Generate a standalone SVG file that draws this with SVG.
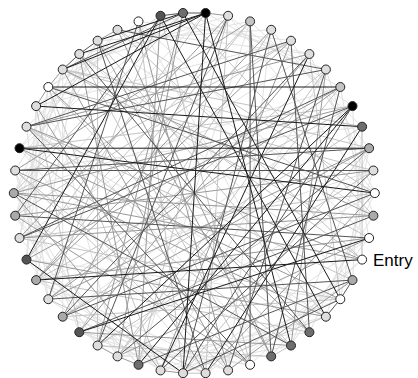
<svg xmlns="http://www.w3.org/2000/svg" width="418" height="378" viewBox="0 0 418 378">
<style>
line{stroke-width:1;fill:none}
.x{stroke:#e2e2e2}.l{stroke:#c4c4c4}.m{stroke:#999}.d{stroke:#555}.k{stroke:#1a1a1a}
circle{stroke:#222;stroke-width:1}
.c0{fill:#000}.c1{fill:#555}.c2{fill:#6e6e6e}.c3{fill:#aaa}.c4{fill:#c4c4c4}.c5{fill:#dedede}.c6{fill:#fff}
text{font-family:"Liberation Sans",Arial,sans-serif;font-size:17px;fill:#000}
</style>
<rect width="418" height="378" fill="#fff"/>
<g id="edges">
<line class="x" x1="138.5" y1="21.4" x2="369.1" y2="238.0"/>
<line class="x" x1="160.5" y1="15.8" x2="48.3" y2="87.0"/>
<line class="x" x1="183.0" y1="13.0" x2="19.5" y2="148.2"/>
<line class="x" x1="205.6" y1="13.0" x2="15.2" y2="215.7"/>
<line class="x" x1="228.1" y1="15.8" x2="374.8" y2="193.1"/>
<line class="x" x1="250.1" y1="21.4" x2="138.5" y2="364.8"/>
<line class="x" x1="271.2" y1="29.8" x2="228.1" y2="370.4"/>
<line class="x" x1="291.0" y1="40.7" x2="36.1" y2="106.1"/>
<line class="x" x1="309.4" y1="54.0" x2="19.5" y2="238.0"/>
<line class="x" x1="325.9" y1="69.5" x2="160.5" y2="370.4"/>
<line class="x" x1="340.3" y1="87.0" x2="13.8" y2="193.1"/>
<line class="x" x1="352.5" y1="106.1" x2="62.7" y2="316.7"/>
<line class="x" x1="362.1" y1="126.7" x2="15.2" y2="170.5"/>
<line class="x" x1="369.1" y1="148.2" x2="291.0" y2="345.5"/>
<line class="x" x1="373.4" y1="170.5" x2="36.1" y2="280.1"/>
<line class="x" x1="374.8" y1="193.1" x2="97.6" y2="345.5"/>
<line class="x" x1="373.4" y1="215.7" x2="97.6" y2="40.7"/>
<line class="x" x1="369.1" y1="238.0" x2="183.0" y2="373.2"/>
<line class="x" x1="362.1" y1="259.6" x2="228.1" y2="370.4"/>
<line class="x" x1="352.5" y1="280.1" x2="79.3" y2="54.0"/>
<line class="x" x1="340.3" y1="299.2" x2="26.5" y2="259.6"/>
<line class="x" x1="325.9" y1="316.7" x2="26.5" y2="126.7"/>
<line class="x" x1="309.4" y1="332.2" x2="138.5" y2="21.4"/>
<line class="x" x1="291.0" y1="345.5" x2="15.2" y2="215.7"/>
<line class="x" x1="271.2" y1="356.4" x2="36.1" y2="106.1"/>
<line class="x" x1="250.1" y1="364.8" x2="79.3" y2="332.2"/>
<line class="x" x1="228.1" y1="370.4" x2="36.1" y2="280.1"/>
<line class="x" x1="205.6" y1="373.2" x2="19.5" y2="148.2"/>
<line class="x" x1="183.0" y1="373.2" x2="79.3" y2="332.2"/>
<line class="x" x1="160.5" y1="370.4" x2="48.3" y2="299.2"/>
<line class="x" x1="138.5" y1="364.8" x2="15.2" y2="215.7"/>
<line class="x" x1="117.5" y1="356.4" x2="48.3" y2="87.0"/>
<line class="x" x1="97.6" y1="345.5" x2="26.5" y2="259.6"/>
<line class="x" x1="62.7" y1="316.7" x2="62.7" y2="69.5"/>
<line class="x" x1="48.3" y1="299.2" x2="15.2" y2="170.5"/>
<line class="x" x1="36.1" y1="280.1" x2="79.3" y2="54.0"/>
<line class="x" x1="26.5" y1="259.6" x2="36.1" y2="106.1"/>
<line class="x" x1="19.5" y1="238.0" x2="48.3" y2="87.0"/>
<line class="x" x1="15.2" y1="215.7" x2="62.7" y2="69.5"/>
<line class="x" x1="13.8" y1="193.1" x2="79.3" y2="54.0"/>
<line class="x" x1="15.2" y1="170.5" x2="97.6" y2="40.7"/>
<line class="x" x1="19.5" y1="148.2" x2="117.5" y2="29.8"/>
<line class="x" x1="26.5" y1="126.7" x2="138.5" y2="21.4"/>
<line class="x" x1="36.1" y1="106.1" x2="160.5" y2="15.8"/>
<line class="x" x1="48.3" y1="87.0" x2="183.0" y2="13.0"/>
<line class="x" x1="62.7" y1="69.5" x2="228.1" y2="15.8"/>
<line class="x" x1="79.3" y1="54.0" x2="250.1" y2="21.4"/>
<line class="x" x1="97.6" y1="40.7" x2="271.2" y2="29.8"/>
<line class="x" x1="117.5" y1="29.8" x2="309.4" y2="54.0"/>
<line class="x" x1="138.5" y1="21.4" x2="291.0" y2="40.7"/>
<line class="x" x1="160.5" y1="15.8" x2="309.4" y2="54.0"/>
<line class="x" x1="183.0" y1="13.0" x2="325.9" y2="69.5"/>
<line class="x" x1="205.6" y1="13.0" x2="340.3" y2="87.0"/>
<line class="x" x1="228.1" y1="15.8" x2="352.5" y2="106.1"/>
<line class="x" x1="250.1" y1="21.4" x2="362.1" y2="126.7"/>
<line class="x" x1="271.2" y1="29.8" x2="369.1" y2="148.2"/>
<line class="x" x1="291.0" y1="40.7" x2="373.4" y2="170.5"/>
<line class="x" x1="309.4" y1="54.0" x2="374.8" y2="193.1"/>
<line class="x" x1="325.9" y1="69.5" x2="373.4" y2="215.7"/>
<line class="x" x1="340.3" y1="87.0" x2="369.1" y2="238.0"/>
<line class="x" x1="352.5" y1="106.1" x2="362.1" y2="259.6"/>
<line class="x" x1="362.1" y1="126.7" x2="352.5" y2="280.1"/>
<line class="x" x1="369.1" y1="148.2" x2="340.3" y2="299.2"/>
<line class="x" x1="373.4" y1="170.5" x2="325.9" y2="316.7"/>
<line class="x" x1="374.8" y1="193.1" x2="309.4" y2="332.2"/>
<line class="x" x1="373.4" y1="215.7" x2="291.0" y2="345.5"/>
<line class="x" x1="369.1" y1="238.0" x2="271.2" y2="356.4"/>
<line class="x" x1="362.1" y1="259.6" x2="250.1" y2="364.8"/>
<line class="x" x1="352.5" y1="280.1" x2="205.6" y2="373.2"/>
<line class="x" x1="340.3" y1="299.2" x2="160.5" y2="370.4"/>
<line class="x" x1="325.9" y1="316.7" x2="138.5" y2="364.8"/>
<line class="x" x1="309.4" y1="332.2" x2="117.5" y2="356.4"/>
<line class="x" x1="291.0" y1="345.5" x2="160.5" y2="370.4"/>
<line class="x" x1="271.2" y1="356.4" x2="117.5" y2="356.4"/>
<line class="x" x1="250.1" y1="364.8" x2="97.6" y2="345.5"/>
<line class="x" x1="228.1" y1="370.4" x2="62.7" y2="316.7"/>
<line class="x" x1="205.6" y1="373.2" x2="79.3" y2="332.2"/>
<line class="x" x1="183.0" y1="373.2" x2="36.1" y2="280.1"/>
<line class="x" x1="160.5" y1="370.4" x2="26.5" y2="259.6"/>
<line class="x" x1="138.5" y1="364.8" x2="19.5" y2="238.0"/>
<line class="x" x1="117.5" y1="356.4" x2="13.8" y2="193.1"/>
<line class="x" x1="97.6" y1="345.5" x2="15.2" y2="215.7"/>
<line class="x" x1="79.3" y1="332.2" x2="15.2" y2="170.5"/>
<line class="x" x1="48.3" y1="299.2" x2="26.5" y2="126.7"/>
<line class="x" x1="36.1" y1="280.1" x2="36.1" y2="106.1"/>
<line class="x" x1="26.5" y1="259.6" x2="48.3" y2="87.0"/>
<line class="x" x1="19.5" y1="238.0" x2="62.7" y2="69.5"/>
<line class="x" x1="15.2" y1="215.7" x2="97.6" y2="40.7"/>
<line class="x" x1="13.8" y1="193.1" x2="117.5" y2="29.8"/>
<line class="l" x1="97.6" y1="40.7" x2="97.6" y2="345.5"/>
<line class="l" x1="138.5" y1="21.4" x2="183.0" y2="373.2"/>
<line class="l" x1="160.5" y1="15.8" x2="250.1" y2="364.8"/>
<line class="l" x1="183.0" y1="13.0" x2="373.4" y2="215.7"/>
<line class="l" x1="205.6" y1="13.0" x2="26.5" y2="259.6"/>
<line class="l" x1="228.1" y1="15.8" x2="205.6" y2="373.2"/>
<line class="l" x1="250.1" y1="21.4" x2="36.1" y2="280.1"/>
<line class="l" x1="271.2" y1="29.8" x2="79.3" y2="332.2"/>
<line class="l" x1="291.0" y1="40.7" x2="13.8" y2="193.1"/>
<line class="l" x1="309.4" y1="54.0" x2="340.3" y2="299.2"/>
<line class="l" x1="325.9" y1="69.5" x2="48.3" y2="299.2"/>
<line class="l" x1="340.3" y1="87.0" x2="117.5" y2="356.4"/>
<line class="l" x1="352.5" y1="106.1" x2="19.5" y2="148.2"/>
<line class="l" x1="362.1" y1="126.7" x2="62.7" y2="69.5"/>
<line class="l" x1="369.1" y1="148.2" x2="183.0" y2="373.2"/>
<line class="l" x1="373.4" y1="170.5" x2="48.3" y2="87.0"/>
<line class="l" x1="374.8" y1="193.1" x2="19.5" y2="238.0"/>
<line class="l" x1="369.1" y1="238.0" x2="62.7" y2="69.5"/>
<line class="l" x1="362.1" y1="259.6" x2="117.5" y2="29.8"/>
<line class="l" x1="352.5" y1="280.1" x2="26.5" y2="126.7"/>
<line class="l" x1="340.3" y1="299.2" x2="62.7" y2="316.7"/>
<line class="l" x1="325.9" y1="316.7" x2="97.6" y2="40.7"/>
<line class="l" x1="309.4" y1="332.2" x2="36.1" y2="280.1"/>
<line class="l" x1="291.0" y1="345.5" x2="19.5" y2="148.2"/>
<line class="l" x1="271.2" y1="356.4" x2="97.6" y2="345.5"/>
<line class="l" x1="250.1" y1="364.8" x2="79.3" y2="54.0"/>
<line class="l" x1="228.1" y1="370.4" x2="15.2" y2="170.5"/>
<line class="l" x1="205.6" y1="373.2" x2="48.3" y2="299.2"/>
<line class="l" x1="183.0" y1="373.2" x2="325.9" y2="316.7"/>
<line class="l" x1="160.5" y1="370.4" x2="48.3" y2="87.0"/>
<line class="l" x1="138.5" y1="364.8" x2="228.1" y2="15.8"/>
<line class="l" x1="117.5" y1="356.4" x2="325.9" y2="69.5"/>
<line class="l" x1="97.6" y1="345.5" x2="373.4" y2="170.5"/>
<line class="l" x1="79.3" y1="332.2" x2="36.1" y2="106.1"/>
<line class="l" x1="62.7" y1="316.7" x2="362.1" y2="126.7"/>
<line class="l" x1="48.3" y1="299.2" x2="160.5" y2="15.8"/>
<line class="l" x1="36.1" y1="280.1" x2="352.5" y2="106.1"/>
<line class="l" x1="26.5" y1="259.6" x2="250.1" y2="21.4"/>
<line class="l" x1="19.5" y1="238.0" x2="340.3" y2="299.2"/>
<line class="l" x1="15.2" y1="215.7" x2="291.0" y2="40.7"/>
<line class="l" x1="13.8" y1="193.1" x2="183.0" y2="13.0"/>
<line class="l" x1="15.2" y1="170.5" x2="250.1" y2="364.8"/>
<line class="l" x1="26.5" y1="126.7" x2="309.4" y2="332.2"/>
<line class="l" x1="48.3" y1="87.0" x2="291.0" y2="345.5"/>
<line class="l" x1="62.7" y1="69.5" x2="369.1" y2="148.2"/>
<line class="l" x1="79.3" y1="54.0" x2="362.1" y2="259.6"/>
<line class="l" x1="117.5" y1="29.8" x2="374.8" y2="193.1"/>
<line class="l" x1="362.1" y1="126.7" x2="362.1" y2="259.6"/>
<line class="l" x1="205.6" y1="373.2" x2="183.0" y2="373.2"/>
<line class="l" x1="291.0" y1="345.5" x2="271.2" y2="356.4"/>
<line class="m" x1="138.5" y1="21.4" x2="228.1" y2="370.4"/>
<line class="m" x1="160.5" y1="15.8" x2="138.5" y2="364.8"/>
<line class="m" x1="183.0" y1="13.0" x2="97.6" y2="345.5"/>
<line class="m" x1="228.1" y1="15.8" x2="19.5" y2="238.0"/>
<line class="m" x1="250.1" y1="21.4" x2="15.2" y2="170.5"/>
<line class="m" x1="271.2" y1="29.8" x2="36.1" y2="280.1"/>
<line class="m" x1="291.0" y1="40.7" x2="160.5" y2="370.4"/>
<line class="m" x1="309.4" y1="54.0" x2="26.5" y2="126.7"/>
<line class="m" x1="325.9" y1="69.5" x2="291.0" y2="345.5"/>
<line class="m" x1="340.3" y1="87.0" x2="48.3" y2="299.2"/>
<line class="m" x1="352.5" y1="106.1" x2="13.8" y2="193.1"/>
<line class="m" x1="369.1" y1="148.2" x2="62.7" y2="316.7"/>
<line class="m" x1="373.4" y1="170.5" x2="15.2" y2="215.7"/>
<line class="m" x1="374.8" y1="193.1" x2="205.6" y2="373.2"/>
<line class="m" x1="373.4" y1="215.7" x2="62.7" y2="69.5"/>
<line class="m" x1="369.1" y1="238.0" x2="117.5" y2="356.4"/>
<line class="m" x1="362.1" y1="259.6" x2="13.8" y2="193.1"/>
<line class="m" x1="352.5" y1="280.1" x2="228.1" y2="370.4"/>
<line class="m" x1="340.3" y1="299.2" x2="19.5" y2="148.2"/>
<line class="m" x1="325.9" y1="316.7" x2="26.5" y2="259.6"/>
<line class="m" x1="309.4" y1="332.2" x2="48.3" y2="87.0"/>
<line class="m" x1="291.0" y1="345.5" x2="79.3" y2="332.2"/>
<line class="m" x1="271.2" y1="356.4" x2="97.6" y2="40.7"/>
<line class="m" x1="250.1" y1="364.8" x2="15.2" y2="215.7"/>
<line class="m" x1="205.6" y1="373.2" x2="36.1" y2="106.1"/>
<line class="m" x1="160.5" y1="370.4" x2="13.8" y2="193.1"/>
<line class="m" x1="138.5" y1="364.8" x2="79.3" y2="54.0"/>
<line class="m" x1="117.5" y1="356.4" x2="183.0" y2="13.0"/>
<line class="m" x1="79.3" y1="332.2" x2="309.4" y2="54.0"/>
<line class="m" x1="62.7" y1="316.7" x2="228.1" y2="15.8"/>
<line class="m" x1="48.3" y1="299.2" x2="369.1" y2="148.2"/>
<line class="m" x1="36.1" y1="280.1" x2="291.0" y2="40.7"/>
<line class="m" x1="26.5" y1="259.6" x2="340.3" y2="87.0"/>
<line class="m" x1="19.5" y1="238.0" x2="373.4" y2="215.7"/>
<line class="m" x1="15.2" y1="170.5" x2="325.9" y2="316.7"/>
<line class="m" x1="26.5" y1="126.7" x2="362.1" y2="259.6"/>
<line class="m" x1="62.7" y1="69.5" x2="228.1" y2="370.4"/>
<line class="m" x1="117.5" y1="29.8" x2="271.2" y2="356.4"/>
<line class="m" x1="36.1" y1="280.1" x2="369.1" y2="238.0"/>
<line class="m" x1="13.8" y1="193.1" x2="373.4" y2="215.7"/>
<line class="m" x1="205.6" y1="13.0" x2="228.1" y2="15.8"/>
<line class="m" x1="36.1" y1="106.1" x2="48.3" y2="87.0"/>
<line class="m" x1="48.3" y1="87.0" x2="62.7" y2="69.5"/>
<line class="m" x1="97.6" y1="40.7" x2="117.5" y2="29.8"/>
<line class="m" x1="138.5" y1="364.8" x2="117.5" y2="356.4"/>
<line class="m" x1="117.5" y1="356.4" x2="97.6" y2="345.5"/>
<line class="m" x1="183.0" y1="373.2" x2="160.5" y2="370.4"/>
<line class="d" x1="15.2" y1="215.7" x2="369.1" y2="238.0"/>
<line class="d" x1="26.5" y1="126.7" x2="291.0" y2="40.7"/>
<line class="d" x1="117.5" y1="29.8" x2="325.9" y2="69.5"/>
<line class="d" x1="138.5" y1="21.4" x2="48.3" y2="299.2"/>
<line class="d" x1="160.5" y1="15.8" x2="15.2" y2="215.7"/>
<line class="d" x1="183.0" y1="13.0" x2="62.7" y2="69.5"/>
<line class="d" x1="228.1" y1="15.8" x2="97.6" y2="345.5"/>
<line class="d" x1="250.1" y1="21.4" x2="250.1" y2="364.8"/>
<line class="d" x1="271.2" y1="29.8" x2="352.5" y2="280.1"/>
<line class="d" x1="291.0" y1="40.7" x2="309.4" y2="332.2"/>
<line class="d" x1="309.4" y1="54.0" x2="62.7" y2="316.7"/>
<line class="d" x1="325.9" y1="69.5" x2="26.5" y2="126.7"/>
<line class="d" x1="340.3" y1="87.0" x2="271.2" y2="356.4"/>
<line class="d" x1="352.5" y1="106.1" x2="19.5" y2="238.0"/>
<line class="d" x1="369.1" y1="148.2" x2="15.2" y2="170.5"/>
<line class="d" x1="373.4" y1="170.5" x2="160.5" y2="370.4"/>
<line class="d" x1="374.8" y1="193.1" x2="48.3" y2="87.0"/>
<line class="d" x1="373.4" y1="215.7" x2="79.3" y2="332.2"/>
<line class="d" x1="352.5" y1="280.1" x2="138.5" y2="364.8"/>
<line class="d" x1="340.3" y1="299.2" x2="183.0" y2="373.2"/>
<line class="d" x1="309.4" y1="332.2" x2="79.3" y2="54.0"/>
<line class="d" x1="291.0" y1="345.5" x2="13.8" y2="193.1"/>
<line class="d" x1="271.2" y1="356.4" x2="250.1" y2="21.4"/>
<line class="d" x1="250.1" y1="364.8" x2="26.5" y2="126.7"/>
<line class="d" x1="228.1" y1="370.4" x2="325.9" y2="69.5"/>
<line class="d" x1="205.6" y1="373.2" x2="97.6" y2="40.7"/>
<line class="d" x1="117.5" y1="356.4" x2="369.1" y2="148.2"/>
<line class="d" x1="62.7" y1="316.7" x2="374.8" y2="193.1"/>
<line class="d" x1="48.3" y1="299.2" x2="352.5" y2="280.1"/>
<line class="d" x1="19.5" y1="238.0" x2="340.3" y2="87.0"/>
<line class="d" x1="15.2" y1="170.5" x2="373.4" y2="170.5"/>
<line class="d" x1="183.0" y1="373.2" x2="352.5" y2="106.1"/>
<line class="d" x1="183.0" y1="373.2" x2="271.2" y2="29.8"/>
<line class="d" x1="160.5" y1="15.8" x2="183.0" y2="13.0"/>
<line class="d" x1="183.0" y1="13.0" x2="205.6" y2="13.0"/>
<line class="d" x1="62.7" y1="69.5" x2="79.3" y2="54.0"/>
<line class="d" x1="79.3" y1="54.0" x2="97.6" y2="40.7"/>
<line class="d" x1="352.5" y1="280.1" x2="340.3" y2="299.2"/>
<line class="d" x1="340.3" y1="299.2" x2="325.9" y2="316.7"/>
<line class="k" x1="48.3" y1="87.0" x2="340.3" y2="87.0"/>
<line class="k" x1="36.1" y1="106.1" x2="362.1" y2="126.7"/>
<line class="k" x1="19.5" y1="148.2" x2="369.1" y2="148.2"/>
<line class="k" x1="97.6" y1="345.5" x2="352.5" y2="106.1"/>
<line class="k" x1="26.5" y1="259.6" x2="183.0" y2="373.2"/>
<line class="k" x1="205.6" y1="13.0" x2="183.0" y2="373.2"/>
<line class="k" x1="205.6" y1="13.0" x2="291.0" y2="345.5"/>
<line class="k" x1="62.7" y1="69.5" x2="205.6" y2="13.0"/>
<line class="k" x1="79.3" y1="54.0" x2="205.6" y2="13.0"/>
<line class="k" x1="79.3" y1="332.2" x2="369.1" y2="238.0"/>
<line class="k" x1="19.5" y1="148.2" x2="374.8" y2="193.1"/>
<line class="k" x1="160.5" y1="15.8" x2="26.5" y2="259.6"/>
<line class="k" x1="183.0" y1="13.0" x2="340.3" y2="299.2"/>
<line class="k" x1="352.5" y1="106.1" x2="138.5" y2="364.8"/>
<line class="k" x1="205.6" y1="13.0" x2="36.1" y2="106.1"/>
<line class="k" x1="97.6" y1="40.7" x2="183.0" y2="13.0"/>
<line class="k" x1="325.9" y1="316.7" x2="160.5" y2="15.8"/>
<line class="k" x1="362.1" y1="126.7" x2="205.6" y2="373.2"/>
<line class="k" x1="160.5" y1="370.4" x2="309.4" y2="54.0"/>
<line class="k" x1="362.1" y1="259.6" x2="36.1" y2="280.1"/>
</g>
<g id="n1"><circle class="c6" cx="138.5" cy="21.4" r="4.5"/></g>
<g id="n2"><circle class="c1" cx="160.5" cy="15.8" r="4.5"/></g>
<g id="n3"><circle class="c2" cx="183.0" cy="13.0" r="4.5"/></g>
<g id="n4"><circle class="c0" cx="205.6" cy="13.0" r="4.5"/></g>
<g id="n5"><circle class="c5" cx="228.1" cy="15.8" r="4.5"/></g>
<g id="n6"><circle class="c4" cx="250.1" cy="21.4" r="4.5"/></g>
<g id="n7"><circle class="c5" cx="271.2" cy="29.8" r="4.5"/></g>
<g id="n8"><circle class="c5" cx="291.0" cy="40.7" r="4.5"/></g>
<g id="n9"><circle class="c5" cx="309.4" cy="54.0" r="4.5"/></g>
<g id="n10"><circle class="c5" cx="325.9" cy="69.5" r="4.5"/></g>
<g id="n11"><circle class="c4" cx="340.3" cy="87.0" r="4.5"/></g>
<g id="n12"><circle class="c0" cx="352.5" cy="106.1" r="4.5"/></g>
<g id="n13"><circle class="c2" cx="362.1" cy="126.7" r="4.5"/></g>
<g id="n14"><circle class="c3" cx="369.1" cy="148.2" r="4.5"/></g>
<g id="n15"><circle class="c5" cx="373.4" cy="170.5" r="4.5"/></g>
<g id="n16"><circle class="c6" cx="374.8" cy="193.1" r="4.5"/></g>
<g id="n17"><circle class="c3" cx="373.4" cy="215.7" r="4.5"/></g>
<g id="n18"><circle class="c6" cx="369.1" cy="238.0" r="4.5"/></g>
<g id="n19"><circle class="c6" cx="362.1" cy="259.6" r="4.5"/><text x="373" y="266">Entry</text></g>
<g id="n20"><circle class="c3" cx="352.5" cy="280.1" r="4.5"/></g>
<g id="n21"><circle class="c6" cx="340.3" cy="299.2" r="4.5"/></g>
<g id="n22"><circle class="c5" cx="325.9" cy="316.7" r="4.5"/></g>
<g id="n23"><circle class="c2" cx="309.4" cy="332.2" r="4.5"/></g>
<g id="n24"><circle class="c2" cx="291.0" cy="345.5" r="4.5"/></g>
<g id="n25"><circle class="c2" cx="271.2" cy="356.4" r="4.5"/></g>
<g id="n26"><circle class="c6" cx="250.1" cy="364.8" r="4.5"/></g>
<g id="n27"><circle class="c5" cx="228.1" cy="370.4" r="4.5"/></g>
<g id="n28"><circle class="c5" cx="205.6" cy="373.2" r="4.5"/></g>
<g id="n29"><circle class="c5" cx="183.0" cy="373.2" r="4.5"/></g>
<g id="n30"><circle class="c5" cx="160.5" cy="370.4" r="4.5"/></g>
<g id="n31"><circle class="c2" cx="138.5" cy="364.8" r="4.5"/></g>
<g id="n32"><circle class="c5" cx="117.5" cy="356.4" r="4.5"/></g>
<g id="n33"><circle class="c5" cx="97.6" cy="345.5" r="4.5"/></g>
<g id="n34"><circle class="c1" cx="79.3" cy="332.2" r="4.5"/></g>
<g id="n35"><circle class="c3" cx="62.7" cy="316.7" r="4.5"/></g>
<g id="n36"><circle class="c5" cx="48.3" cy="299.2" r="4.5"/></g>
<g id="n37"><circle class="c3" cx="36.1" cy="280.1" r="4.5"/></g>
<g id="n38"><circle class="c1" cx="26.5" cy="259.6" r="4.5"/></g>
<g id="n39"><circle class="c5" cx="19.5" cy="238.0" r="4.5"/></g>
<g id="n40"><circle class="c3" cx="15.2" cy="215.7" r="4.5"/></g>
<g id="n41"><circle class="c3" cx="13.8" cy="193.1" r="4.5"/></g>
<g id="n42"><circle class="c5" cx="15.2" cy="170.5" r="4.5"/></g>
<g id="n43"><circle class="c0" cx="19.5" cy="148.2" r="4.5"/></g>
<g id="n44"><circle class="c5" cx="26.5" cy="126.7" r="4.5"/></g>
<g id="n45"><circle class="c5" cx="36.1" cy="106.1" r="4.5"/></g>
<g id="n46"><circle class="c6" cx="48.3" cy="87.0" r="4.5"/></g>
<g id="n47"><circle class="c5" cx="62.7" cy="69.5" r="4.5"/></g>
<g id="n48"><circle class="c5" cx="79.3" cy="54.0" r="4.5"/></g>
<g id="n49"><circle class="c5" cx="97.6" cy="40.7" r="4.5"/></g>
<g id="n50"><circle class="c5" cx="117.5" cy="29.8" r="4.5"/></g>
</svg>
